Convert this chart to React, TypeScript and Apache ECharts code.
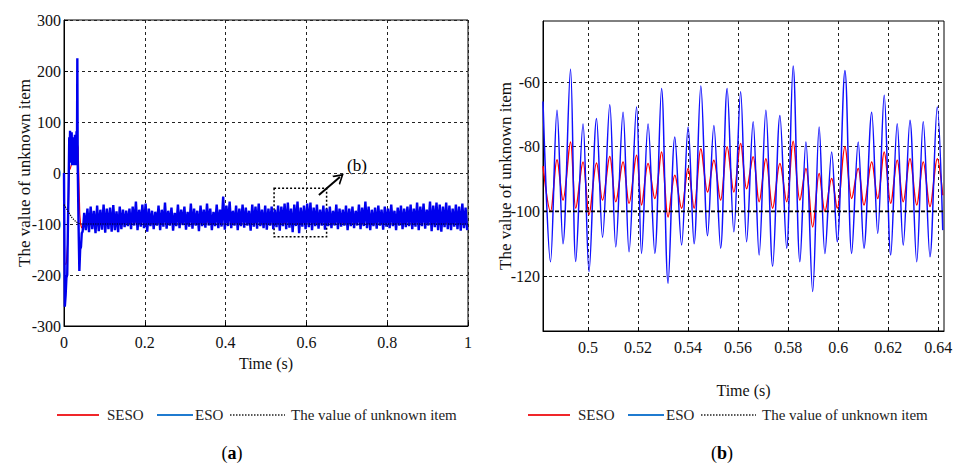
import React, { useEffect, useRef } from "react";
import * as echarts from "echarts";

const FONT = '"Liberation Serif", "Times New Roman", serif';

// ---------- tick labels ----------
const leftXTicks = [0, 0.2, 0.4, 0.6, 0.8, 1];
const leftYTicks = [-300, -200, -100, 0, 100, 200, 300];
const rightXTicks = [0.5, 0.52, 0.54, 0.56, 0.58, 0.6, 0.62, 0.64];
const rightYTicks = [-120, -100, -80, -60];

// ---------- panel (a): 0 - 1 s ----------
const leftBlueTransientT = [0, 0.002, 0.004, 0.006, 0.008, 0.010, 0.012, 0.013, 0.014, 0.015, 0.016, 0.017, 0.018, 0.019, 0.020, 0.021, 0.022, 0.023, 0.024, 0.025, 0.026, 0.027, 0.028, 0.029, 0.030, 0.031, 0.032, 0.033, 0.034, 0.036, 0.038, 0.040, 0.042, 0.044, 0.046, 0.048];
const leftBlueTransientV = [0, -262, -240, -205, -200, -90, 10, 70, 30, 83, 25, 78, 20, 80, 15, 65, 20, 70, 15, 60, 18, 75, 20, 65, 15, 82, 20, 225, 15, -100, -192, -150, -145, -118, -115, -100];

const leftBandStart = 0.05;
const leftBandStep = 0.004;
const leftBlueBand = [
  -78, -112, -70, -116, -66, -110, -74, -118, -64, -114, -72, -111, -62, -117, -70, -110, -68, -115, -63, -112,
  -75, -116, -66, -110, -72, -106, -74, -104, -70, -110, -66, -103, -56, -112, -72, -105, -62, -108, -60, -115,
  -70, -104, -74, -110, -76, -103, -64, -112, -72, -105, -58, -109, -74, -103, -68, -113, -78, -104, -62, -108,
  -72, -102, -66, -111, -76, -105, -60, -109, -70, -103, -74, -114, -64, -104, -72, -107, -60, -103, -70, -112,
  -76, -104, -62, -108, -72, -105, -46, -111, -64, -104, -56, -108, -74, -103, -64, -112, -70, -104, -62, -107,
  -68, -103, -74, -113, -62, -105, -66, -109, -60, -104, -72, -108, -64, -111, -70, -103, -66, -110, -72, -106,
  -64, -113, -66, -104, -60, -110, -58, -107, -70, -116, -62, -104, -56, -118, -68, -105, -64, -110, -60, -106,
  -58, -112, -68, -104, -62, -109, -72, -103, -64, -111, -70, -104, -66, -108, -74, -103, -62, -110, -70, -105,
  -72, -103, -64, -112, -70, -104, -66, -108, -74, -103, -62, -110, -68, -104, -56, -108, -66, -112, -72, -104,
  -68, -109, -64, -103, -72, -111, -66, -105, -70, -108, -62, -104, -74, -112, -68, -103, -64, -110, -70, -106,
  -66, -104, -62, -110, -70, -105, -58, -112, -66, -104, -60, -109, -72, -103, -56, -114, -64, -106, -58, -112,
  -62, -115, -66, -106, -58, -110, -64, -112, -70, -105, -62, -110, -66, -113, -60, -108, -68, -112,
];

const leftRedTransientT = [0.004, 0.006, 0.009, 0.011, 0.013, 0.016, 0.019, 0.022, 0.025, 0.028, 0.031, 0.033, 0.035, 0.037, 0.039, 0.041, 0.044, 0.047];
const leftRedTransientV = [-180, -175, -140, -60, 5, 10, 18, 22, 30, 38, 45, 56, 50, -20, -80, -100, -108, -105];

const leftRedBandStep = 0.008;
const leftRedBand = [
  -96, -84, -98, -86, -95, -82, -97, -85, -99, -84,
  -96, -83, -98, -80, -94, -85, -97, -82, -96, -84,
  -98, -86, -95, -82, -97, -84, -99, -85, -96, -83,
  -97, -84, -95, -86, -98, -82, -96, -85, -97, -84,
  -95, -83, -98, -80, -96, -85, -97, -84, -99, -86,
  -96, -84, -97, -82, -95, -85, -98, -84, -96, -83,
  -97, -85, -99, -82, -96, -84, -101, -86, -97, -83,
  -96, -85, -98, -84, -95, -82, -97, -86, -96, -84,
  -98, -85, -96, -83, -97, -84, -99, -86, -95, -84,
  -97, -82, -96, -85, -98, -84, -96, -83, -97, -86,
  -95, -84, -98, -86, -96, -85, -97, -88, -99, -90,
  -97, -89, -98, -90, -99, -92, -97, -91, -98,
];

const leftUnknownT = [0, 0.01, 0.02, 0.03, 0.04, 1.0];
const leftUnknownV = [-62, -75, -88, -96, -100, -100];

// ---------- panel (b): zoom 0.482 - 0.642 s ----------
const rightT = [
  0.4820, 0.4850, 0.4876, 0.4900, 0.4930, 0.4951, 0.4980, 0.5004, 0.5034, 0.5058,
  0.5087, 0.5111, 0.5140, 0.5164, 0.5194, 0.5214, 0.5240, 0.5267, 0.5294, 0.5320,
  0.5347, 0.5374, 0.5400, 0.5424, 0.5451, 0.5478, 0.5503, 0.5530, 0.5556, 0.5583,
  0.5610, 0.5634, 0.5660, 0.5684, 0.5711, 0.5738, 0.5767, 0.5794, 0.5820, 0.5847,
  0.5871, 0.5898, 0.5924, 0.5947, 0.5974, 0.5996, 0.6027, 0.6054, 0.6080, 0.6103,
  0.6134, 0.6158, 0.6184, 0.6210, 0.6236, 0.6260, 0.6287, 0.6314, 0.6340, 0.6367,
  0.6396, 0.6418,
];
const rightBlue = [
  -66, -115.6, -68.7, -110, -56, -115.5, -73, -118.6, -71.3, -108,
  -67, -111, -69.3, -112.5, -67.7, -113, -73, -113, -62, -122.2,
  -77, -110.4, -73.9, -110, -61.2, -107.5, -73.4, -111.4, -62, -106.3,
  -63, -109.4, -72.3, -113.5, -68.7, -117, -70.3, -111.4, -55, -115.6,
  -78.5, -124.8, -73.9, -113, -81.6, -109.4, -56.4, -113, -78.5, -111.4,
  -69.3, -106.8, -64.1, -113.5, -72.9, -110.4, -71.8, -115.6, -72.3, -114,
  -67.7, -105.8,
];
const rightRed = [
  -86, -100, -84, -96.5, -78.5, -99, -84.7, -101, -85, -96.5,
  -83, -97, -84.7, -97.5, -82.6, -98, -85.2, -96, -81.6, -101.7,
  -88.8, -99, -86.7, -99, -80.6, -94, -84.2, -96.5, -80, -94,
  -79, -93, -83.1, -97, -83.7, -99, -85.2, -97, -78.3, -96.5,
  -86.7, -104.8, -88.3, -100, -89.8, -99, -80, -96, -86.7, -98,
  -84.7, -96, -81.6, -97.5, -84.2, -97, -83.7, -98, -84.7, -98.5,
  -83.7, -95,
];
const rightUnknownT = [0.482, 0.6423];
const rightUnknownV = [-100, -100];

// annotation in panel (a): zoomed region and arrow (data units)
const zoomBoxT = [0.52, 0.65];
const zoomBoxV = [-30, -125];
const arrowT = [0.631, 0.683];
const arrowV = [-43, -8];

const seriesNames = ["SESO", "ESO", "The value of unknown item"];

function pairs(t: number[], v: number[]) {
  return v.map((y, i) => [t[i], y]);
}
function band(start: number, step: number, v: number[]) {
  return v.map((y, i) => [+(start + i * step).toFixed(4), y]);
}

export default function App() {
  const ref = useRef<HTMLDivElement>(null);
  useEffect(() => {
    if (!ref.current) return;
    const chart = echarts.init(ref.current, undefined, { renderer: "svg" });

    const leftBlue = [
      ...pairs(leftBlueTransientT, leftBlueTransientV),
      ...band(leftBandStart, leftBandStep, leftBlueBand),
    ];
    const leftRed = [
      ...pairs(leftRedTransientT, leftRedTransientV),
      ...band(leftBandStart, leftRedBandStep, leftRedBand),
    ];

    const axisText = { color: "#111", fontFamily: FONT, fontSize: 16 };
    const split = { show: true, lineStyle: { color: "#222", type: [3, 3] as any, width: 1 } };
    const axLine = { show: true, onZero: false, lineStyle: { color: "#000", width: 1 } };
    const tick = { show: true, inside: true, length: 4, lineStyle: { color: "#000" } };

    const legendGroup = (x0: number, y: number) => [
      { type: "line", shape: { x1: x0, y1: y, x2: x0 + 42, y2: y }, style: { stroke: "#f0262a", lineWidth: 2 } },
      { type: "text", x: x0 + 50, y, style: { text: "SESO", fill: "#222", font: `15px ${FONT}`, verticalAlign: "middle" } },
      { type: "line", shape: { x1: x0 + 100, y1: y, x2: x0 + 136, y2: y }, style: { stroke: "#1f7bd0", lineWidth: 2 } },
      { type: "text", x: x0 + 138, y, style: { text: "ESO", fill: "#222", font: `15px ${FONT}`, verticalAlign: "middle" } },
      { type: "line", shape: { x1: x0 + 173, y1: y, x2: x0 + 228, y2: y }, style: { stroke: "#222", lineWidth: 1.5, lineDash: [1.5, 1.5] } },
      { type: "text", x: x0 + 234, y, style: { text: "The value of unknown item", fill: "#222", font: `15px ${FONT}`, verticalAlign: "middle" } },
    ];
    const caption = (cx: number, y: number, letter: string) => ({
      type: "text",
      x: cx,
      y,
      style: {
        text: `{n|(}{b|${letter}}{n|)}`,
        align: "center",
        verticalAlign: "middle",
        rich: {
          n: { fontFamily: FONT, fontSize: 18, fill: "#000" },
          b: { fontFamily: FONT, fontSize: 18, fontWeight: "bold", fill: "#000" },
        },
      },
    });

    chart.setOption({
      animation: false,
      backgroundColor: "#fff",
      grid: [
        { left: 64, top: 20, width: 404, height: 306, show: true, borderColor: "#000", borderWidth: 1, backgroundColor: "transparent" },
        { left: 543, top: 21, width: 401, height: 310, show: true, borderColor: "#000", borderWidth: 1, backgroundColor: "transparent" },
      ],
      xAxis: [
        {
          type: "value", gridIndex: 0, min: 0, max: 1, interval: 0.2,
          name: "Time (s)", nameLocation: "middle", nameGap: 29, nameMoveOverlap: false,
          nameTextStyle: { ...axisText },
          axisLine: axLine, axisTick: tick, splitLine: split,
          axisLabel: { ...axisText, margin: 8, formatter: (v: number) => String(+v.toFixed(2)) },
        },
        {
          type: "value", gridIndex: 1, min: 0.482, max: 0.6423,
          name: "Time (s)", nameLocation: "middle", nameGap: 51, nameMoveOverlap: false,
          nameTextStyle: { ...axisText },
          axisLine: axLine,
          axisTick: { ...tick, customValues: rightXTicks },
          splitLine: split,
          axisLabel: { ...axisText, margin: 8, customValues: rightXTicks, formatter: (v: number) => String(+v.toFixed(2)) },
        },
      ],
      yAxis: [
        {
          type: "value", gridIndex: 0, min: -300, max: 300, interval: 100,
          name: "The value of unknown item", nameLocation: "middle", nameGap: 31, nameMoveOverlap: false,
          nameTextStyle: { ...axisText, fontSize: 17 },
          axisLine: axLine, axisTick: tick, splitLine: split,
          axisLabel: { ...axisText, margin: 3, formatter: (v: number) => String(v) },
        },
        {
          type: "value", gridIndex: 1, min: -137, max: -41.1,
          name: "The value of unknown item", nameLocation: "middle", nameGap: 29, nameMoveOverlap: false,
          nameTextStyle: { ...axisText, fontSize: 17 },
          axisLine: axLine,
          axisTick: { ...tick, customValues: rightYTicks },
          splitLine: split,
          axisLabel: { ...axisText, margin: 3, customValues: rightYTicks, formatter: (v: number) => String(v) },
        },
      ],
      series: [
        {
          name: seriesNames[0], type: "line", xAxisIndex: 0, yAxisIndex: 0, data: leftRed,
          showSymbol: false, lineStyle: { color: "#ff0000", width: 1.2 }, itemStyle: { color: "#ff0000" },
        },
        {
          name: seriesNames[1], type: "line", xAxisIndex: 0, yAxisIndex: 0, data: leftBlue,
          showSymbol: false, lineStyle: { color: "#0000ee", width: 2.4 }, itemStyle: { color: "#0000ee" },
        },
        {
          name: seriesNames[2], type: "line", xAxisIndex: 0, yAxisIndex: 0, data: pairs(leftUnknownT, leftUnknownV),
          showSymbol: false, lineStyle: { color: "#000", width: 1.2, type: "dotted" }, itemStyle: { color: "#000" },
          markArea: {
            silent: true,
            itemStyle: { color: "rgba(0,0,0,0)", borderColor: "#000", borderWidth: 1.5, borderType: [2, 2] },
            data: [[{ coord: [zoomBoxT[0], zoomBoxV[0]] }, { coord: [zoomBoxT[1], zoomBoxV[1]] }]],
          },
          markLine: {
            silent: true,
            symbol: ["none", "path://M0,10 L5,0 L10,10 L8.4,10 L5,3.2 L1.6,10 Z"],
            symbolSize: [12, 10],
            lineStyle: { color: "#000", width: 2, type: "solid" },
            label: { show: false },
            data: [[{ coord: [arrowT[0], arrowV[0]] }, { coord: [arrowT[1], arrowV[1]] }]],
          },
        },
        {
          name: seriesNames[0], type: "line", xAxisIndex: 1, yAxisIndex: 1, data: pairs(rightT, rightRed),
          showSymbol: false, smooth: 0.35, lineStyle: { color: "#ff0000", width: 1.5 }, itemStyle: { color: "#ff0000" },
        },
        {
          name: seriesNames[1], type: "line", xAxisIndex: 1, yAxisIndex: 1, data: pairs(rightT, rightBlue),
          showSymbol: false, smooth: 0.35, lineStyle: { color: "#1010ff", width: 1.5 }, itemStyle: { color: "#1010ff" },
        },
        {
          name: seriesNames[2], type: "line", xAxisIndex: 1, yAxisIndex: 1, data: pairs(rightUnknownT, rightUnknownV),
          showSymbol: false, lineStyle: { color: "#000", width: 1.6, type: [4, 2] }, itemStyle: { color: "#000" },
        },
      ],
      graphic: [
        { type: "text", x: 347, y: 165, style: { text: "(b)", fill: "#000", font: `17px ${FONT}`, verticalAlign: "middle" } },
        ...legendGroup(57, 415),
        ...legendGroup(528, 415),
        caption(232, 453, "a"),
        caption(722, 453, "b"),
      ],
    });
    return () => chart.dispose();
  }, []);
  return <div ref={ref} style={{ position: "absolute", left: 0, top: 0, width: 957, height: 467 }} />;
}
